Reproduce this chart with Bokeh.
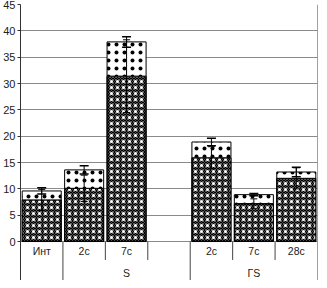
from bokeh.plotting import figure
from bokeh.models import Range1d, FixedTicker, Whisker, TeeHead, ColumnDataSource
from bokeh.core.properties import value
from bokeh.embed import file_html
from bokeh.resources import INLINE

# ---- data ----
categories = ["Инт", "2с", "7с", "", "2с", "7с", "28с"]
group_labels = ["", "S", "ГS"]
group_first_slot = [0, 1, 4]
group_last_slot = [0, 3, 6]
bottom_vals = [7.9, 10.1, 31.4, None, 15.9, 7.2, 12.0]
total_vals = [9.6, 13.6, 37.9, None, 18.9, 8.9, 13.2]
err_total = [0.6, 0.8, 1.0, None, 0.7, 0.2, 0.9]
err_bottom = [2.0, 2.5, 6.9, None, 2.1, 0.9, 2.0]
y_ticks = [0, 5, 10, 15, 20, 25, 30, 35, 40, 45]

Y_MAX = 45
Y_MIN = -7.4
FONT = "Liberation Sans"

idx = [i for i, v in enumerate(bottom_vals) if v is not None]
src = ColumnDataSource(dict(
    x=idx,
    bottom=[bottom_vals[i] for i in idx],
    total=[total_vals[i] for i in idx],
    tl=[total_vals[i] - err_total[i] for i in idx],
    tu=[total_vals[i] + err_total[i] for i in idx],
    bl=[bottom_vals[i] - err_bottom[i] for i in idx],
    bu=[bottom_vals[i] + err_bottom[i] for i in idx],
))

p = figure(width=319, height=280, output_backend="svg", toolbar_location=None,
           x_range=Range1d(-0.5, len(categories) - 0.5),
           y_range=Range1d(Y_MIN, Y_MAX),
           min_border_left=20, min_border_right=2, min_border_top=4, min_border_bottom=0)
p.outline_line_color = None
p.xaxis.visible = False
p.xgrid.visible = False
p.yaxis.ticker = FixedTicker(ticks=y_ticks)
p.yaxis.major_label_text_font = FONT
p.yaxis.major_label_text_font_size = "11px"
p.yaxis.major_label_text_color = "#222222"
p.yaxis.major_label_standoff = 2
p.yaxis.major_tick_out = 3
p.yaxis.major_tick_in = 0
p.yaxis.minor_tick_out = 0
p.yaxis.minor_tick_in = 0
p.yaxis.axis_line_color = "#333333"
p.yaxis.major_tick_line_color = "#333333"
p.ygrid.grid_line_color = "#8a8a8a"
p.ygrid.grid_line_width = 1
p.background_fill_color = "white"

# bottom (dense checker pattern) segment
p.vbar(x="x", bottom=0, top="bottom", width=0.92, source=src,
       fill_color="black", hatch_pattern="diagonal_cross", hatch_color="#bbbbbb",
       hatch_scale=3, hatch_weight=0.5, line_color="black", line_width=1)
p.vbar(x="x", bottom=0, top="bottom", width=0.92, source=src,
       fill_alpha=0, hatch_pattern="dot", hatch_color="white",
       hatch_scale=6, hatch_weight=1.0, line_color="black", line_width=1)
# top (sparse dots) segment
p.vbar(x="x", bottom="bottom", top="total", width=0.92, source=src,
       fill_color="white", hatch_pattern="dot", hatch_color="black",
       hatch_scale=8, hatch_weight=0.7, line_color="black", line_width=1)

p.add_layout(Whisker(source=src, base="x", lower="bl", upper="bu", dimension="height",
                     level="annotation", line_color="black", line_width=1,
                     upper_head=TeeHead(size=7, line_color="black", line_width=1),
                     lower_head=TeeHead(size=7, line_color="black", line_width=1)))
p.add_layout(Whisker(source=src, base="x", lower="tl", upper="tu", dimension="height",
                     level="annotation", line_color="black", line_width=1,
                     upper_head=TeeHead(size=9, line_color="black", line_width=1.5),
                     lower_head=TeeHead(size=9, line_color="black", line_width=1.5)))

# category separators
boundaries = [i + 0.5 for i in range(-1, len(categories))]
long_b = set([g - 0.5 for g in group_first_slot] + [len(categories) - 0.5])
x0s, y0s, y1s = [], [], []
for b in boundaries:
    x0s.append(b)
    y0s.append(0 if b != len(categories) - 0.5 else Y_MAX)
    y1s.append(Y_MIN if b in long_b else -3.5)
p.segment(x0=x0s, y0=y0s, x1=x0s, y1=y1s, line_color="#444444", line_width=1)

# category labels
p.text(x=list(range(len(categories))), y=[-1.85] * len(categories), text=categories,
       text_font=value(FONT), text_font_size="10.5px", text_color="#222222",
       text_align="center", text_baseline="middle")
# group labels
gx = [(a + b) / 2 for a, b in zip(group_first_slot, group_last_slot)]
p.text(x=gx, y=[-5.9] * len(gx), text=group_labels,
       text_font=value(FONT), text_font_size="10.5px", text_color="#222222",
       text_align="center", text_baseline="middle")

open("out.html", "w").write(file_html(p, INLINE))
